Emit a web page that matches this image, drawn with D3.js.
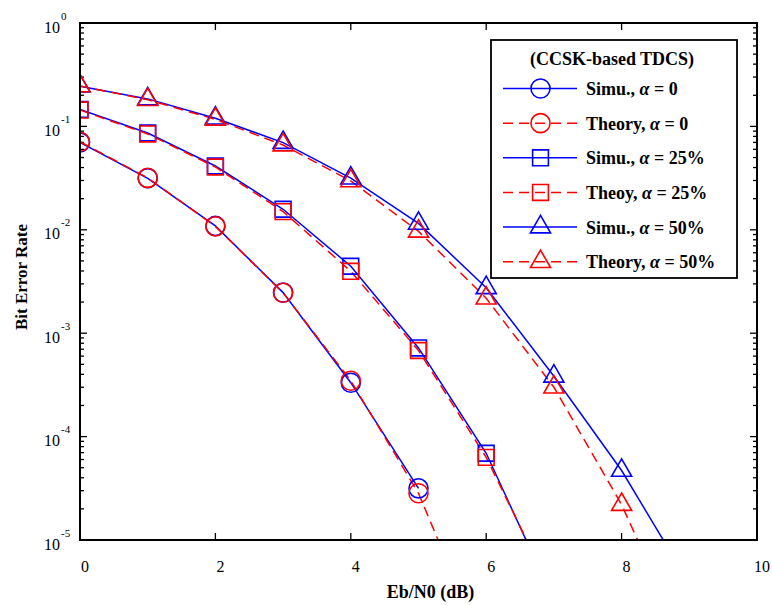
<!DOCTYPE html>
<html>
<head>
<meta charset="utf-8">
<script src="https://cdn.jsdelivr.net/npm/d3@7"></script>
<style>
  html, body { margin: 0; padding: 0; background: #fff; }
  svg { display: block; }
  text { font-family: "Liberation Serif", "Times New Roman", serif; fill: #000; }
</style>
</head>
<body>
<svg id="chart" width="772" height="605"></svg>
<script>
// Eb/N0 grid (dB)
const ebn0 = [0, 1, 2, 3, 4, 5, 6, 7, 8, 9];

// BER curves, alpha = 0
const simu0   = [0.070, 0.0315, 0.0109, 0.00247, 3.32e-4, 3.16e-5];
const theory0 = [0.071, 0.0318, 0.0108, 0.00246, 3.47e-4, 2.83e-5, 7.8e-7];

// BER curves, alpha = 25%
const simu25   = [0.146, 0.0863, 0.0414, 0.0158, 0.00444, 7.2e-4, 6.9e-5, 2.6e-6];
const theory25 = [0.144, 0.0845, 0.0405, 0.0150, 0.00397, 6.8e-4, 6.3e-5, 2.9e-6];

// BER curves, alpha = 50%
const simu50   = [0.245, 0.1845, 0.120, 0.0697, 0.0316, 0.01153, 0.00275, 3.83e-4, 4.7e-5, 3.8e-6];
const theory50 = [0.246, 0.181, 0.117, 0.066, 0.0297, 0.00966, 0.00218, 3.0e-4, 2.2e-5, 7.8e-7];

const xTicks = [0, 2, 4, 6, 8, 10];
const yDecades = [0, -1, -2, -3, -4, -5];

const legendTitle = "(CCSK-based TDCS)";
const series = [
  { name: ["Simu., ", "α", " = 0"],       values: simu0,    kind: "simu",   shape: "circle" },
  { name: ["Theory, ", "α", " = 0"],      values: theory0,  kind: "theory", shape: "circle" },
  { name: ["Simu., ", "α", " = 25%"],     values: simu25,   kind: "simu",   shape: "square" },
  { name: ["Theoy, ", "α", " = 25%"],     values: theory25, kind: "theory", shape: "square" },
  { name: ["Simu., ", "α", " = 50%"],     values: simu50,   kind: "simu",   shape: "triangle" },
  { name: ["Theory, ", "α", " = 50%"],    values: theory50, kind: "theory", shape: "triangle" }
];

const BLUE = "#0000ff", RED = "#ff0000";
const style = {
  simu:   { color: BLUE, dash: null },
  theory: { color: RED,  dash: "10,6" }
};
const symbols = {
  circle:   d3.symbol().type(d3.symbolCircle).size(285),
  square:   d3.symbol().type(d3.symbolSquare).size(250),
  triangle: d3.symbol().type(d3.symbolTriangle).size(175)
};

const svg = d3.select("#chart");
const L = 80, R = 757, T = 23, B = 540;

const x = d3.scaleLinear().domain([0, 10]).range([L, R]);
const y = d3.scaleLog().domain([1e-5, 1]).range([B, T]);

svg.append("rect").attr("width", 772).attr("height", 605).attr("fill", "#fff");

// clip region for data
svg.append("defs").append("clipPath").attr("id", "plotClip")
  .append("rect").attr("x", L).attr("y", T).attr("width", R - L).attr("height", B - T);

// ticks (inside, on all four sides)
const tickG = svg.append("g").attr("stroke", "#000").attr("stroke-width", 1.3);
xTicks.forEach(v => {
  tickG.append("line").attr("x1", x(v)).attr("x2", x(v)).attr("y1", B).attr("y2", B - 7);
  tickG.append("line").attr("x1", x(v)).attr("x2", x(v)).attr("y1", T).attr("y2", T + 7);
});
yDecades.forEach(e => {
  const v = Math.pow(10, e);
  tickG.append("line").attr("x1", L).attr("x2", L + 7).attr("y1", y(v)).attr("y2", y(v));
  tickG.append("line").attr("x1", R).attr("x2", R - 7).attr("y1", y(v)).attr("y2", y(v));
  if (e > -5) {
    for (let m = 2; m <= 9; m++) {
      const mv = m * Math.pow(10, e - 1);
      tickG.append("line").attr("x1", L).attr("x2", L + 4).attr("y1", y(mv)).attr("y2", y(mv));
      tickG.append("line").attr("x1", R).attr("x2", R - 4).attr("y1", y(mv)).attr("y2", y(mv));
    }
  }
});

// data lines and markers
const plot = svg.append("g").attr("clip-path", "url(#plotClip)");
const lineGen = d3.line().x((d, i) => x(ebn0[i])).y(d => y(d));

series.forEach(s => {
  const st = style[s.kind];
  plot.append("path")
    .datum(s.values)
    .attr("d", lineGen)
    .attr("fill", "none")
    .attr("stroke", st.color)
    .attr("stroke-width", 1.5)
    .attr("stroke-dasharray", st.dash);
});
series.forEach(s => {
  const st = style[s.kind];
  s.values.forEach((v, i) => {
    if (v < 1e-5) return;
    plot.append("path")
      .attr("d", symbols[s.shape]())
      .attr("transform", `translate(${x(ebn0[i])},${y(v)})`)
      .attr("fill", "none")
      .attr("stroke", st.color)
      .attr("stroke-width", 1.6);
  });
});

// frame
svg.append("rect")
  .attr("x", L).attr("y", T).attr("width", R - L).attr("height", B - T)
  .attr("fill", "none").attr("stroke", "#000").attr("stroke-width", 2);

// x tick labels
xTicks.forEach(v => {
  svg.append("text")
    .attr("x", x(v) + 5).attr("y", 571.5)
    .attr("text-anchor", "middle")
    .attr("font-size", 16)
    .text(v);
});

// y tick labels as powers of ten
yDecades.forEach(e => {
  const ty = y(Math.pow(10, e));
  svg.append("text")
    .attr("x", 60).attr("y", ty + 9.5)
    .attr("text-anchor", "end").attr("font-size", 16)
    .text("10");
  svg.append("text")
    .attr("x", 61).attr("y", ty - 3.5)
    .attr("text-anchor", "start").attr("font-size", 11)
    .text(e === 0 ? "0" : String(e));
});

// axis titles
svg.append("text")
  .attr("x", (L + R) / 2 + 12).attr("y", 598)
  .attr("text-anchor", "middle").attr("font-size", 18).attr("font-weight", "bold")
  .text("Eb/N0 (dB)");
svg.append("text")
  .attr("transform", "translate(26.5,277) rotate(-90)")
  .attr("text-anchor", "middle").attr("font-size", 17).attr("font-weight", "bold")
  .text("Bit Error Rate");

// legend
const lg = svg.append("g");
lg.append("rect")
  .attr("x", 491).attr("y", 40).attr("width", 246).attr("height", 238)
  .attr("fill", "#fff").attr("stroke", "#000").attr("stroke-width", 1.8);
lg.append("text")
  .attr("x", 612).attr("y", 64.5)
  .attr("text-anchor", "middle").attr("font-size", 18).attr("font-weight", "bold")
  .text(legendTitle);

const rowY = d3.scaleLinear().domain([0, 5]).range([88.5, 261.7]);
series.forEach((s, i) => {
  const st = style[s.kind];
  const cy = rowY(i);
  lg.append("line")
    .attr("x1", 503).attr("x2", 577).attr("y1", cy).attr("y2", cy)
    .attr("stroke", st.color).attr("stroke-width", 1.5)
    .attr("stroke-dasharray", st.dash);
  lg.append("path")
    .attr("d", symbols[s.shape]())
    .attr("transform", `translate(540.5,${cy})`)
    .attr("fill", "none").attr("stroke", st.color).attr("stroke-width", 1.6);
  const t = lg.append("text")
    .attr("x", 586).attr("y", cy + 6.5)
    .attr("font-size", 18).attr("font-weight", "bold");
  t.append("tspan").text(s.name[0]);
  t.append("tspan").attr("font-style", "italic").text(s.name[1]);
  t.append("tspan").text(s.name[2]);
});
</script>
</body>
</html>
